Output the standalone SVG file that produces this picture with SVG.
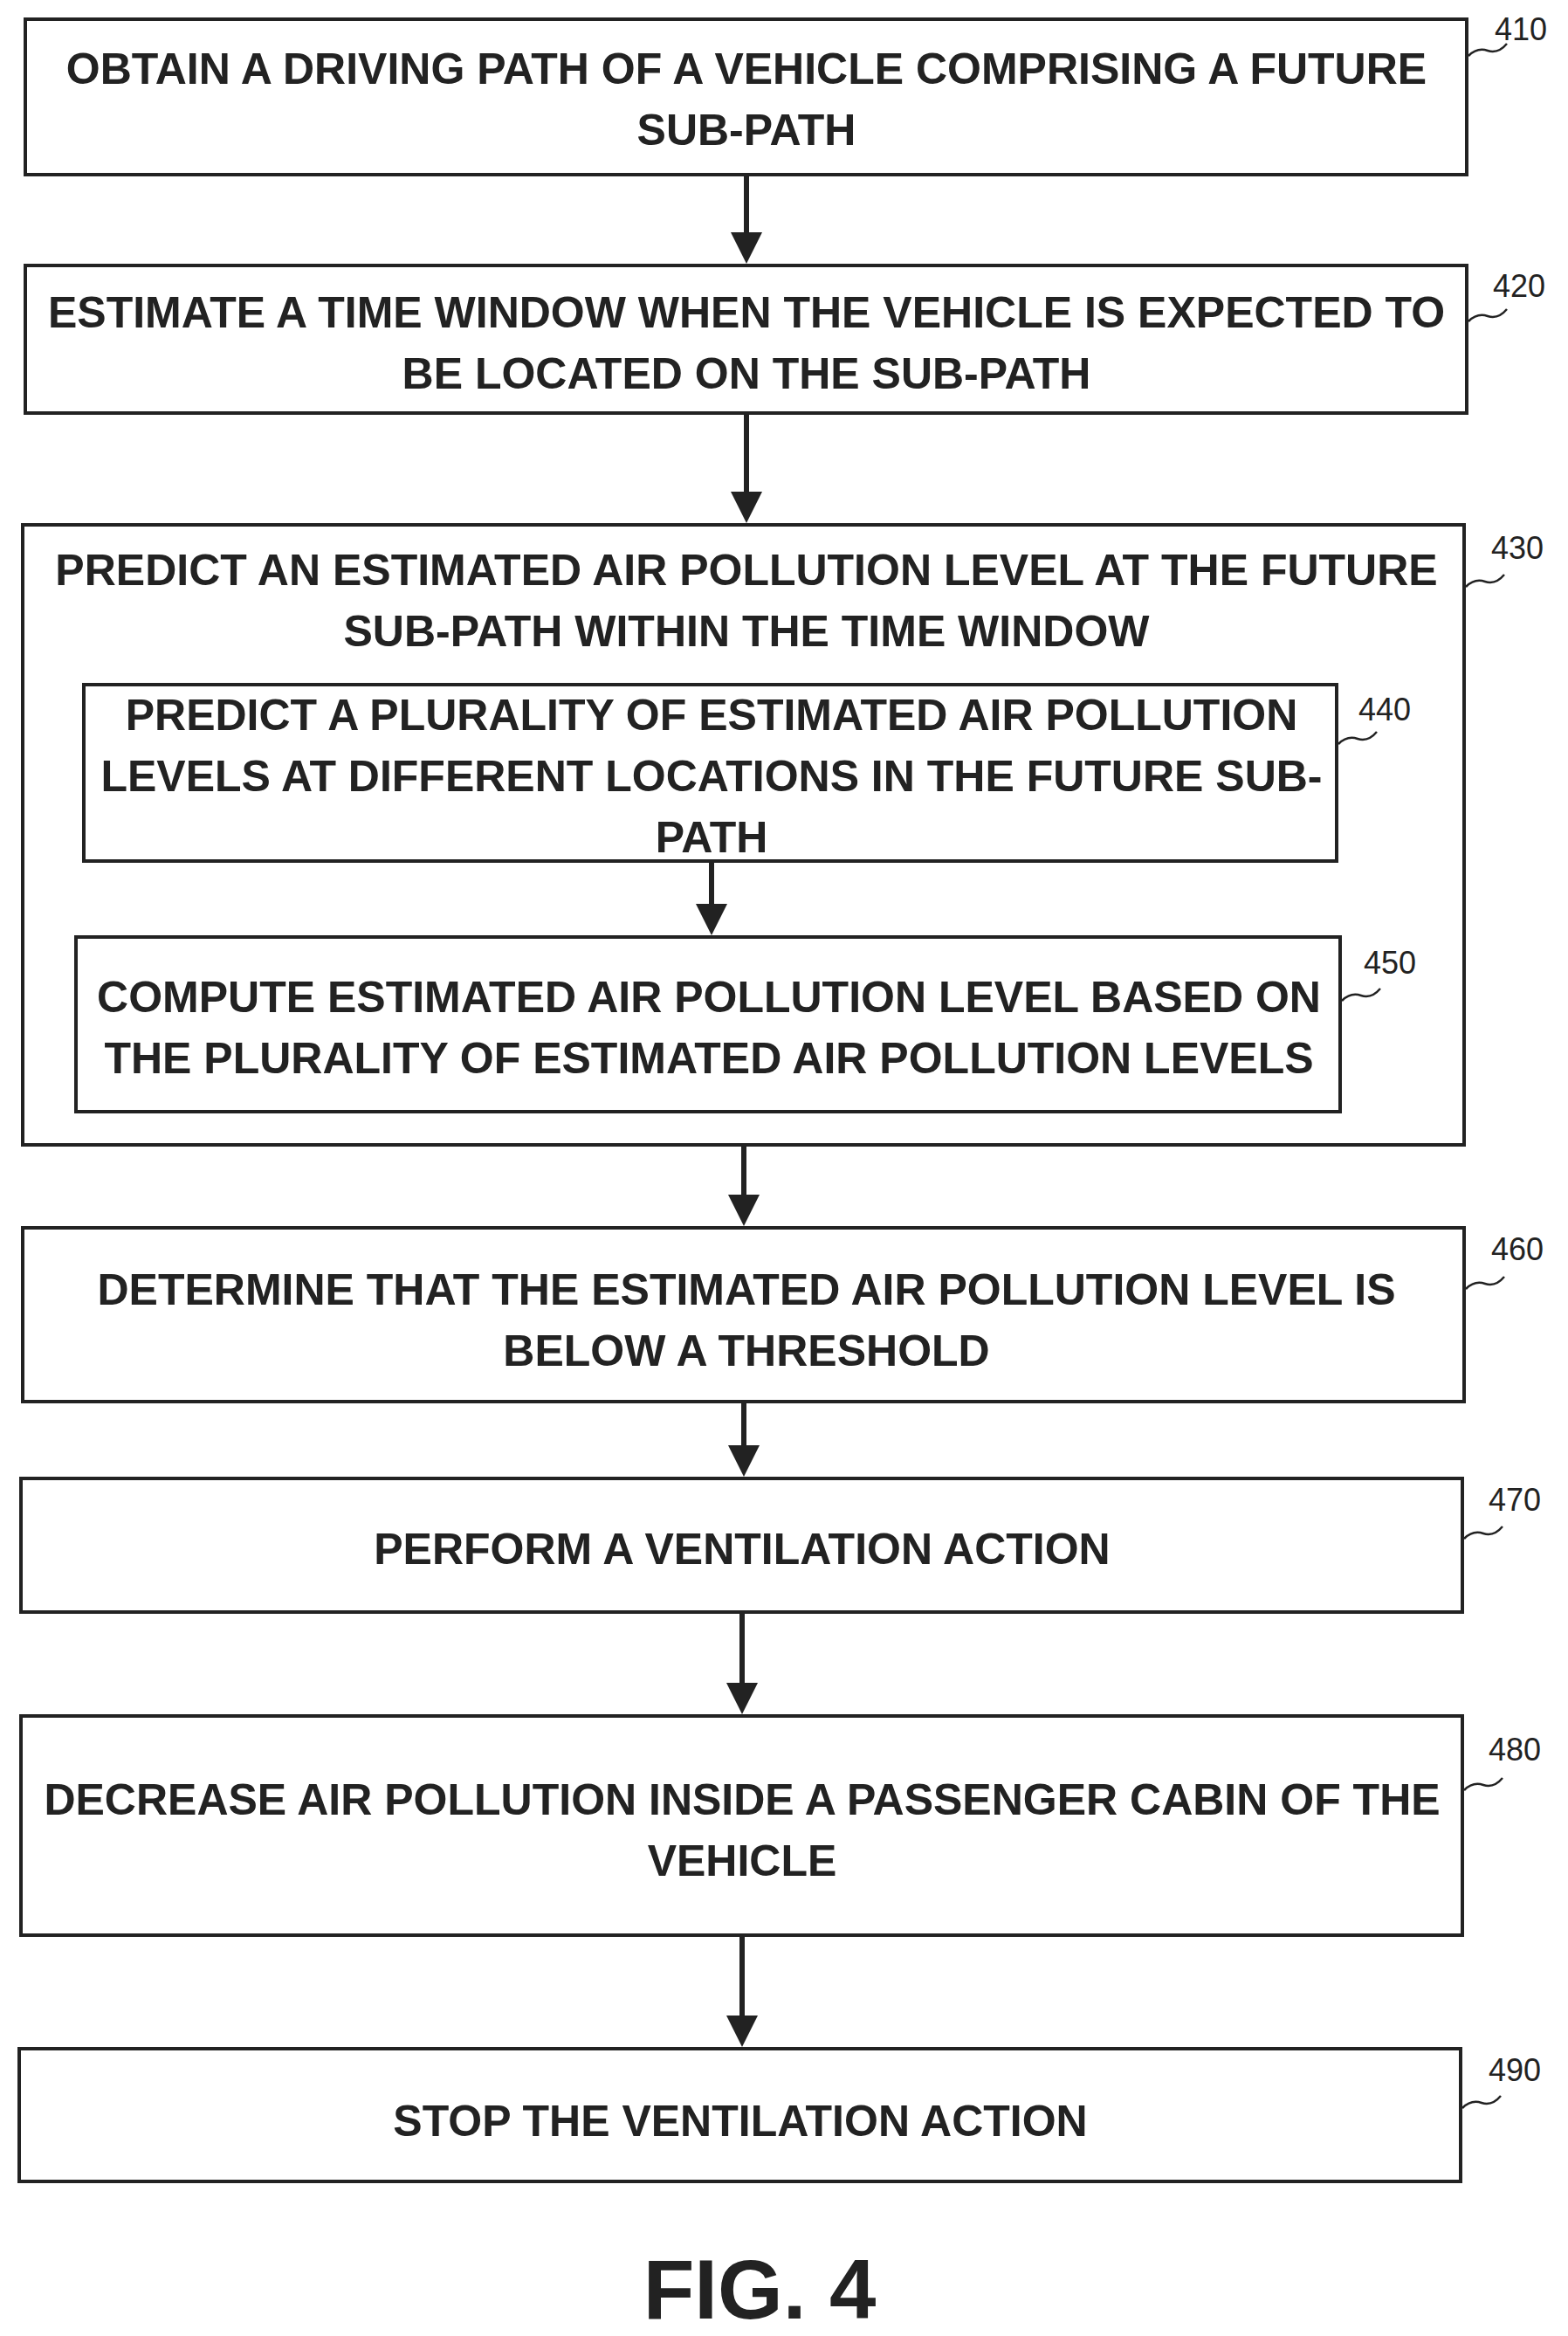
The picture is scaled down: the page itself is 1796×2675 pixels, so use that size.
<svg xmlns="http://www.w3.org/2000/svg" width="1796" height="2675" viewBox="0 0 1796 2675">
<style>
.b{fill:#fff;stroke:#222;stroke-width:4}
.t{font-family:"Liberation Sans",Arial,sans-serif;font-weight:bold;font-size:50px;fill:#222;text-anchor:middle}
.n{font-family:"Liberation Sans",Arial,sans-serif;font-size:36px;fill:#222}
.l{fill:none;stroke:#222;stroke-width:2.5}
.c{stroke:#222;stroke-width:6;fill:none}
</style>
<defs><marker id="a" markerWidth="6" markerHeight="6" refX="5" refY="3" orient="auto" markerUnits="strokeWidth"><path d="M0,0 L6,3 L0,6 z" fill="#222"/></marker></defs>
<rect width="1796" height="2675" fill="#fff"/>
<g id="n410"><rect class="b" x="29" y="22" width="1651" height="178"/><text class="t" x="855" y="96">OBTAIN A DRIVING PATH OF A VEHICLE COMPRISING A FUTURE</text><text class="t" x="855" y="166">SUB-PATH</text><path class="l" d="M1682,64 q10,-10 22,-6 q12,4 22,-8"/><text class="n" x="1712" y="46">410</text></g>
<g id="n420"><rect class="b" x="29" y="304" width="1651" height="169"/><text class="t" x="855" y="375">ESTIMATE A TIME WINDOW WHEN THE VEHICLE IS EXPECTED TO</text><text class="t" x="855" y="445">BE LOCATED ON THE SUB-PATH</text><path class="l" d="M1682,368 q10,-10 22,-6 q12,4 22,-8"/><text class="n" x="1710" y="340">420</text></g>
<g id="n430"><rect class="b" x="26" y="601" width="1651" height="710"/><text class="t" x="855" y="670">PREDICT AN ESTIMATED AIR POLLUTION LEVEL AT THE FUTURE</text><text class="t" x="855" y="740">SUB-PATH WITHIN THE TIME WINDOW</text><path class="l" d="M1679,672 q10,-10 22,-6 q12,4 22,-8"/><text class="n" x="1708" y="640">430</text></g>
<g id="n440"><rect class="b" x="96" y="784" width="1435" height="202"/><text class="t" x="815" y="836">PREDICT A PLURALITY OF ESTIMATED AIR POLLUTION</text><text class="t" x="815" y="906">LEVELS AT DIFFERENT LOCATIONS IN THE FUTURE SUB-</text><text class="t" x="815" y="976">PATH</text><path class="l" d="M1533,852 q10,-10 22,-6 q12,4 22,-8"/><text class="n" x="1556" y="825">440</text></g>
<g id="n450"><rect class="b" x="87" y="1073" width="1448" height="200"/><text class="t" x="812" y="1159">COMPUTE ESTIMATED AIR POLLUTION LEVEL BASED ON</text><text class="t" x="812" y="1229">THE PLURALITY OF ESTIMATED AIR POLLUTION LEVELS</text><path class="l" d="M1537,1146 q10,-10 22,-6 q12,4 22,-8"/><text class="n" x="1562" y="1115">450</text></g>
<g id="n460"><rect class="b" x="26" y="1406" width="1651" height="199"/><text class="t" x="855" y="1494">DETERMINE THAT THE ESTIMATED AIR POLLUTION LEVEL IS</text><text class="t" x="855" y="1564">BELOW A THRESHOLD</text><path class="l" d="M1679,1476 q10,-10 22,-6 q12,4 22,-8"/><text class="n" x="1708" y="1443">460</text></g>
<g id="n470"><rect class="b" x="24" y="1693" width="1651" height="153"/><text class="t" x="850" y="1791">PERFORM A VENTILATION ACTION</text><path class="l" d="M1677,1762 q10,-10 22,-6 q12,4 22,-8"/><text class="n" x="1705" y="1730">470</text></g>
<g id="n480"><rect class="b" x="24" y="1965" width="1651" height="251"/><text class="t" x="850" y="2078">DECREASE AIR POLLUTION INSIDE A PASSENGER CABIN OF THE</text><text class="t" x="850" y="2148">VEHICLE</text><path class="l" d="M1677,2050 q10,-10 22,-6 q12,4 22,-8"/><text class="n" x="1705" y="2016">480</text></g>
<g id="n490"><rect class="b" x="22" y="2346" width="1651" height="152"/><text class="t" x="848" y="2446">STOP THE VENTILATION ACTION</text><path class="l" d="M1675,2414 q10,-10 22,-6 q12,4 22,-8"/><text class="n" x="1705" y="2383">490</text></g>
<g id="connectors">
<line class="c" x1="855" y1="200" x2="855" y2="296" marker-end="url(#a)"/>
<line class="c" x1="855" y1="473" x2="855" y2="593" marker-end="url(#a)"/>
<line class="c" x1="815" y1="986" x2="815" y2="1065" marker-end="url(#a)"/>
<line class="c" x1="852" y1="1311" x2="852" y2="1398" marker-end="url(#a)"/>
<line class="c" x1="852" y1="1605" x2="852" y2="1685" marker-end="url(#a)"/>
<line class="c" x1="850" y1="1846" x2="850" y2="1957" marker-end="url(#a)"/>
<line class="c" x1="850" y1="2216" x2="850" y2="2338" marker-end="url(#a)"/>
</g>
<text x="870" y="2655" style="font-family:'Liberation Sans',Arial,sans-serif;font-weight:bold;font-size:96px;fill:#222;text-anchor:middle">FIG. 4</text>
</svg>
